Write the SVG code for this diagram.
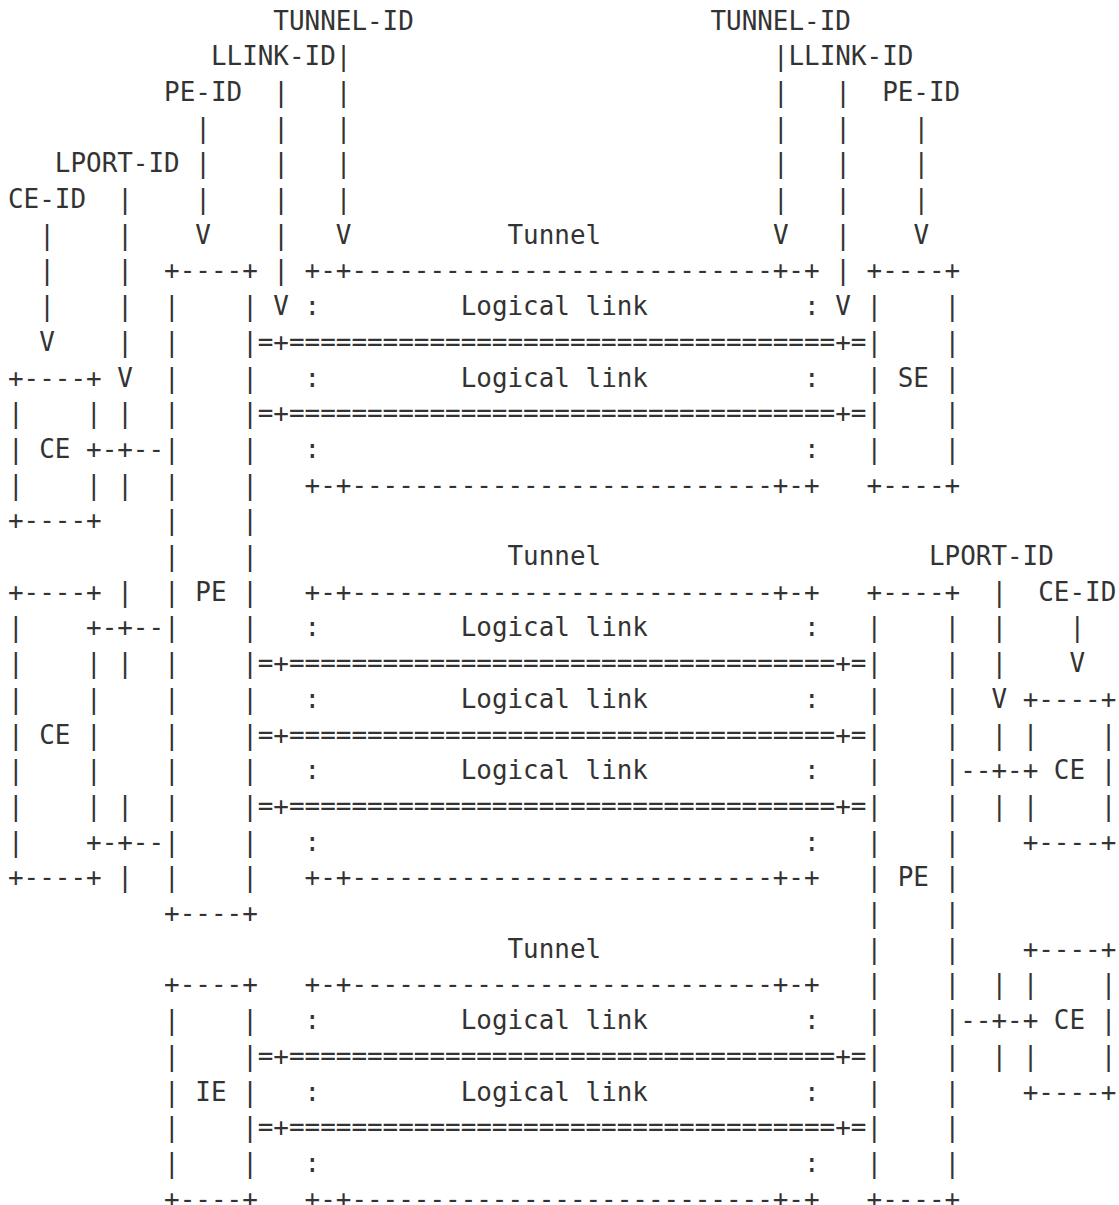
<svg xmlns="http://www.w3.org/2000/svg" width="1119" height="1205" viewBox="0 0 1119 1205">
<style>
text { font-family: "DejaVu Sans Mono", "Liberation Mono", monospace; font-size: 25.93px; fill: #333; white-space: pre; }
</style>
<rect width="1119" height="1205" fill="#fff"/>

<!-- Character grid: column c at x = 8 + 15.61*c, row r baseline at y = 29.5 + 35.7*r -->

<g id="ce-left-1">
<text xml:space="preserve" x="8" y="386.5">+----+</text>
<text xml:space="preserve" x="8" y="422.2">|    |</text>
<text xml:space="preserve" x="8" y="457.9">| CE +</text>
<text xml:space="preserve" x="8" y="493.6">|    |</text>
<text xml:space="preserve" x="8" y="529.3">+----+</text>
</g>

<g id="ce-left-2">
<text xml:space="preserve" x="8" y="600.7">+----+</text>
<text xml:space="preserve" x="8" y="636.4">|    +</text>
<text xml:space="preserve" x="8" y="672.1">|    |</text>
<text xml:space="preserve" x="8" y="707.8">|    |</text>
<text xml:space="preserve" x="8" y="743.5">| CE |</text>
<text xml:space="preserve" x="8" y="779.2">|    |</text>
<text xml:space="preserve" x="8" y="814.9">|    |</text>
<text xml:space="preserve" x="8" y="850.6">|    +</text>
<text xml:space="preserve" x="8" y="886.3">+----+</text>
</g>

<g id="pe-left">
<text xml:space="preserve" x="164.1" y="279.4">+----+</text>
<text xml:space="preserve" x="164.1" y="315.1">|    |</text>
<text xml:space="preserve" x="164.1" y="350.8">|    |</text>
<text xml:space="preserve" x="164.1" y="386.5">|    |</text>
<text xml:space="preserve" x="164.1" y="422.2">|    |</text>
<text xml:space="preserve" x="164.1" y="457.9">|    |</text>
<text xml:space="preserve" x="164.1" y="493.6">|    |</text>
<text xml:space="preserve" x="164.1" y="529.3">|    |</text>
<text xml:space="preserve" x="164.1" y="565.0">|    |</text>
<text xml:space="preserve" x="164.1" y="600.7">| PE |</text>
<text xml:space="preserve" x="164.1" y="636.4">|    |</text>
<text xml:space="preserve" x="164.1" y="672.1">|    |</text>
<text xml:space="preserve" x="164.1" y="707.8">|    |</text>
<text xml:space="preserve" x="164.1" y="743.5">|    |</text>
<text xml:space="preserve" x="164.1" y="779.2">|    |</text>
<text xml:space="preserve" x="164.1" y="814.9">|    |</text>
<text xml:space="preserve" x="164.1" y="850.6">|    |</text>
<text xml:space="preserve" x="164.1" y="886.3">|    |</text>
<text xml:space="preserve" x="164.1" y="922.0">+----+</text>
</g>

<g id="se">
<text xml:space="preserve" x="866.55" y="279.4">+----+</text>
<text xml:space="preserve" x="866.55" y="315.1">|    |</text>
<text xml:space="preserve" x="866.55" y="350.8">|    |</text>
<text xml:space="preserve" x="866.55" y="386.5">| SE |</text>
<text xml:space="preserve" x="866.55" y="422.2">|    |</text>
<text xml:space="preserve" x="866.55" y="457.9">|    |</text>
<text xml:space="preserve" x="866.55" y="493.6">+----+</text>
</g>

<g id="pe-right">
<text xml:space="preserve" x="866.55" y="600.7">+----+</text>
<text xml:space="preserve" x="866.55" y="636.4">|    |</text>
<text xml:space="preserve" x="866.55" y="672.1">|    |</text>
<text xml:space="preserve" x="866.55" y="707.8">|    |</text>
<text xml:space="preserve" x="866.55" y="743.5">|    |</text>
<text xml:space="preserve" x="866.55" y="779.2">|    |</text>
<text xml:space="preserve" x="866.55" y="814.9">|    |</text>
<text xml:space="preserve" x="866.55" y="850.6">|    |</text>
<text xml:space="preserve" x="866.55" y="886.3">| PE |</text>
<text xml:space="preserve" x="866.55" y="922.0">|    |</text>
<text xml:space="preserve" x="866.55" y="957.7">|    |</text>
<text xml:space="preserve" x="866.55" y="993.4">|    |</text>
<text xml:space="preserve" x="866.55" y="1029.1">|    |</text>
<text xml:space="preserve" x="866.55" y="1064.8">|    |</text>
<text xml:space="preserve" x="866.55" y="1100.5">|    |</text>
<text xml:space="preserve" x="866.55" y="1136.2">|    |</text>
<text xml:space="preserve" x="866.55" y="1171.9">|    |</text>
<text xml:space="preserve" x="866.55" y="1207.6">+----+</text>
</g>

<g id="ie">
<text xml:space="preserve" x="164.1" y="993.4">+----+</text>
<text xml:space="preserve" x="164.1" y="1029.1">|    |</text>
<text xml:space="preserve" x="164.1" y="1064.8">|    |</text>
<text xml:space="preserve" x="164.1" y="1100.5">| IE |</text>
<text xml:space="preserve" x="164.1" y="1136.2">|    |</text>
<text xml:space="preserve" x="164.1" y="1171.9">|    |</text>
<text xml:space="preserve" x="164.1" y="1207.6">+----+</text>
</g>

<g id="ce-right-1">
<text xml:space="preserve" x="1022.65" y="707.8">+----+</text>
<text xml:space="preserve" x="1022.65" y="743.5">|    |</text>
<text xml:space="preserve" x="1022.65" y="779.2">+ CE |</text>
<text xml:space="preserve" x="1022.65" y="814.9">|    |</text>
<text xml:space="preserve" x="1022.65" y="850.6">+----+</text>
</g>

<g id="ce-right-2">
<text xml:space="preserve" x="1022.65" y="957.7">+----+</text>
<text xml:space="preserve" x="1022.65" y="993.4">|    |</text>
<text xml:space="preserve" x="1022.65" y="1029.1">+ CE |</text>
<text xml:space="preserve" x="1022.65" y="1064.8">|    |</text>
<text xml:space="preserve" x="1022.65" y="1100.5">+----+</text>
</g>

<g id="tunnel-1">
<text x="507.52" y="243.7">Tunnel</text>
<text x="304.59" y="279.4">+-+---------------------------+-+</text>
<text x="304.59" y="315.1">:</text><text x="804.11" y="315.1">:</text>
<text x="304.59" y="386.5">:</text><text x="804.11" y="386.5">:</text>
<text x="304.59" y="457.9">:</text><text x="804.11" y="457.9">:</text>
<text x="304.59" y="493.6">+-+---------------------------+-+</text>
</g>

<g id="tunnel-2">
<text x="507.52" y="565.0">Tunnel</text>
<text x="304.59" y="600.7">+-+---------------------------+-+</text>
<text x="304.59" y="636.4">:</text><text x="804.11" y="636.4">:</text>
<text x="304.59" y="707.8">:</text><text x="804.11" y="707.8">:</text>
<text x="304.59" y="779.2">:</text><text x="804.11" y="779.2">:</text>
<text x="304.59" y="850.6">:</text><text x="804.11" y="850.6">:</text>
<text x="304.59" y="886.3">+-+---------------------------+-+</text>
</g>

<g id="tunnel-3">
<text x="507.52" y="957.7">Tunnel</text>
<text x="304.59" y="993.4">+-+---------------------------+-+</text>
<text x="304.59" y="1029.1">:</text><text x="804.11" y="1029.1">:</text>
<text x="304.59" y="1100.5">:</text><text x="804.11" y="1100.5">:</text>
<text x="304.59" y="1171.9">:</text><text x="804.11" y="1171.9">:</text>
<text x="304.59" y="1207.6">+-+---------------------------+-+</text>
</g>

<g id="connectors">
  <g id="logical-links">
    <text x="257.76" y="350.8">=+===================================+=</text>
    <text x="257.76" y="422.2">=+===================================+=</text>
    <text x="257.76" y="672.1">=+===================================+=</text>
    <text x="257.76" y="743.5">=+===================================+=</text>
    <text x="257.76" y="814.9">=+===================================+=</text>
    <text x="257.76" y="1064.8">=+===================================+=</text>
    <text x="257.76" y="1136.2">=+===================================+=</text>
    <text x="460.69" y="315.1">Logical link</text>
    <text x="460.69" y="386.5">Logical link</text>
    <text x="460.69" y="636.4">Logical link</text>
    <text x="460.69" y="707.8">Logical link</text>
    <text x="460.69" y="779.2">Logical link</text>
    <text x="460.69" y="1029.1">Logical link</text>
    <text x="460.69" y="1100.5">Logical link</text>
  </g>
  <g id="attachment-circuits">
    <text x="101.66" y="457.9">-+--</text>
    <text x="101.66" y="636.4">-+--</text>
    <text x="101.66" y="850.6">-+--</text>
    <text x="117.27" y="422.2">|</text>
    <text x="117.27" y="493.6">|</text>
    <text x="117.27" y="600.7">|</text>
    <text x="117.27" y="672.1">|</text>
    <text x="117.27" y="814.9">|</text>
    <text x="117.27" y="886.3">|</text>
    <text x="960.21" y="779.2">--+-</text>
    <text x="960.21" y="1029.1">--+-</text>
    <text x="991.43" y="743.5">|</text>
    <text x="991.43" y="814.9">|</text>
    <text x="991.43" y="993.4">|</text>
    <text x="991.43" y="1064.8">|</text>
  </g>
  <g id="id-pointers">
    <!-- CE-ID (left) -->
    <text x="39.22" y="243.7">|</text><text x="39.22" y="279.4">|</text><text x="39.22" y="315.1">|</text><text x="39.22" y="350.8">V</text>
    <!-- LPORT-ID (left) -->
    <text x="117.27" y="208.0">|</text><text x="117.27" y="243.7">|</text><text x="117.27" y="279.4">|</text><text x="117.27" y="315.1">|</text><text x="117.27" y="350.8">|</text><text x="117.27" y="386.5">V</text>
    <!-- PE-ID (left) -->
    <text x="195.32" y="136.6">|</text><text x="195.32" y="172.3">|</text><text x="195.32" y="208.0">|</text><text x="195.32" y="243.7">V</text>
    <!-- LLINK-ID (left) -->
    <text x="273.37" y="100.9">|</text><text x="273.37" y="136.6">|</text><text x="273.37" y="172.3">|</text><text x="273.37" y="208.0">|</text><text x="273.37" y="243.7">|</text><text x="273.37" y="279.4">|</text><text x="273.37" y="315.1">V</text>
    <!-- TUNNEL-ID (left) -->
    <text x="335.81" y="65.2">|</text><text x="335.81" y="100.9">|</text><text x="335.81" y="136.6">|</text><text x="335.81" y="172.3">|</text><text x="335.81" y="208.0">|</text><text x="335.81" y="243.7">V</text>
    <!-- TUNNEL-ID (right) -->
    <text x="772.89" y="65.2">|</text><text x="772.89" y="100.9">|</text><text x="772.89" y="136.6">|</text><text x="772.89" y="172.3">|</text><text x="772.89" y="208.0">|</text><text x="772.89" y="243.7">V</text>
    <!-- LLINK-ID (right) -->
    <text x="835.33" y="100.9">|</text><text x="835.33" y="136.6">|</text><text x="835.33" y="172.3">|</text><text x="835.33" y="208.0">|</text><text x="835.33" y="243.7">|</text><text x="835.33" y="279.4">|</text><text x="835.33" y="315.1">V</text>
    <!-- PE-ID (right) -->
    <text x="913.38" y="136.6">|</text><text x="913.38" y="172.3">|</text><text x="913.38" y="208.0">|</text><text x="913.38" y="243.7">V</text>
    <!-- LPORT-ID (right) -->
    <text x="991.43" y="600.7">|</text><text x="991.43" y="636.4">|</text><text x="991.43" y="672.1">|</text><text x="991.43" y="707.8">V</text>
    <!-- CE-ID (right) -->
    <text x="1069.48" y="636.4">|</text><text x="1069.48" y="672.1">V</text>
  </g>
</g>

<g id="labels">
  <text x="273.37" y="29.5">TUNNEL-ID</text>
  <text x="710.45" y="29.5">TUNNEL-ID</text>
  <text x="210.93" y="65.2">LLINK-ID</text>
  <text x="788.5" y="65.2">LLINK-ID</text>
  <text x="164.1" y="100.9">PE-ID</text>
  <text x="882.16" y="100.9">PE-ID</text>
  <text x="54.83" y="172.3">LPORT-ID</text>
  <text x="8" y="208.0">CE-ID</text>
  <text x="928.99" y="565.0">LPORT-ID</text>
  <text x="1038.26" y="600.7">CE-ID</text>
</g>
</svg>
